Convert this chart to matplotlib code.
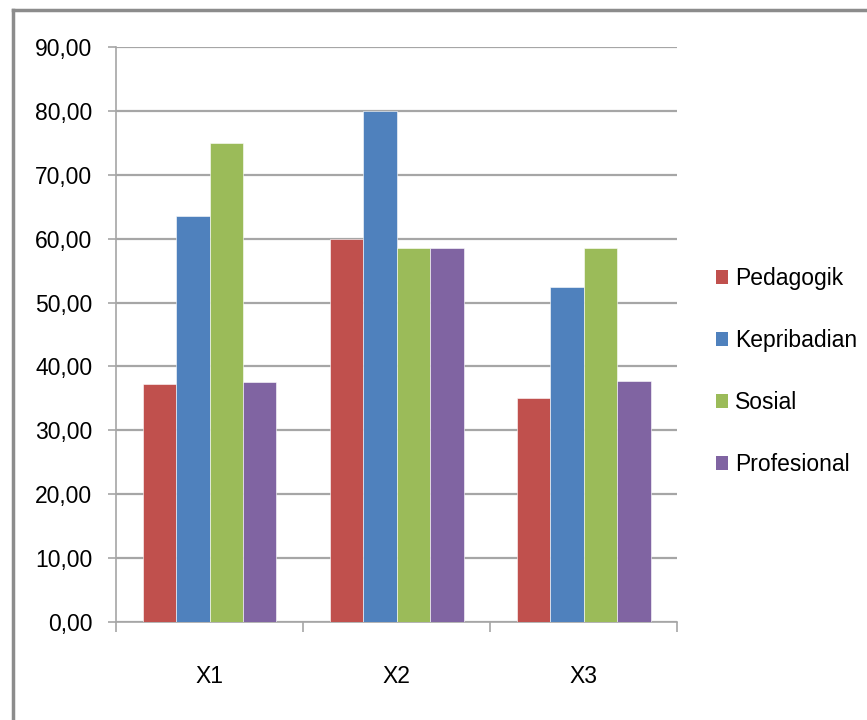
import numpy as np
import matplotlib
matplotlib.use("Agg")
import matplotlib.pyplot as plt
from matplotlib.lines import Line2D
from matplotlib.patches import Patch

plt.rcParams['font.family'] = ['Liberation Sans', 'DejaVu Sans']

categories = ["X1", "X2", "X3"]
series_names = ["Pedagogik", "Kepribadian", "Sosial", "Profesional"]
pedagogik = [37.2, 60.0, 35.0]
kepribadian = [63.5, 80.0, 52.5]
sosial = [75.0, 58.5, 58.5]
profesional = [37.5, 58.5, 37.8]
colors = ["#C0504D", "#4F81BD", "#9BBB59", "#8064A2"]

fig = plt.figure(figsize=(8.67, 7.2), dpi=100)
ax = fig.add_axes([0.1338, 0.1361, 0.6472, 0.7986])

# outer chart frame (top and left edges visible)
fig.add_artist(Line2D([0.015, 1.0], [0.986, 0.986], transform=fig.transFigure,
                      color="#8C8C8C", lw=2.5))
fig.add_artist(Line2D([0.015, 0.015], [0.0, 0.986], transform=fig.transFigure,
                      color="#8C8C8C", lw=2.5))

x = np.arange(len(categories))
w = 0.179
all_series = [pedagogik, kepribadian, sosial, profesional]
for i, (vals, c, name) in enumerate(zip(all_series, colors, series_names)):
    ax.bar(x + (i - 1.5) * w, vals, width=w, color=c, label=name, zorder=3,
           edgecolor="white", linewidth=0.4)

ax.set_xlim(-0.5, 2.5)
ax.set_ylim(0, 90)
ax.set_yticks(np.arange(0, 91, 10))
ax.set_yticklabels([f"{v:.2f}".replace(".", ",") for v in np.arange(0, 91, 10)])
ax.yaxis.grid(True, color="#A6A6A6", lw=1.6, zorder=0)

ax.set_xticks(x)
ax.set_xticklabels(categories)
ax.set_xticks([0.5, 1.5, 2.5, -0.5], minor=True)
ax.tick_params(axis="x", which="major", length=0, pad=31, labelsize=16.5)
ax.tick_params(axis="x", which="minor", length=7, color="#A6A6A6", width=1.2)
ax.tick_params(axis="y", length=6, color="#A6A6A6", width=1.2, pad=11, labelsize=16.5)

for side in ["top", "right"]:
    ax.spines[side].set_visible(False)
for side in ["left", "bottom"]:
    ax.spines[side].set_color("#A6A6A6")
    ax.spines[side].set_linewidth(1.2)

handles = [Patch(facecolor=c, label=n) for c, n in zip(colors, series_names)]
fig.legend(handles=handles, loc="center left", bbox_to_anchor=(0.815, 0.484),
           frameon=False, fontsize=16.5, handlelength=0.55, handleheight=0.55,
           handletextpad=0.3, labelspacing=1.7, borderaxespad=0)

fig.savefig("out.png", dpi=100, facecolor="white")
